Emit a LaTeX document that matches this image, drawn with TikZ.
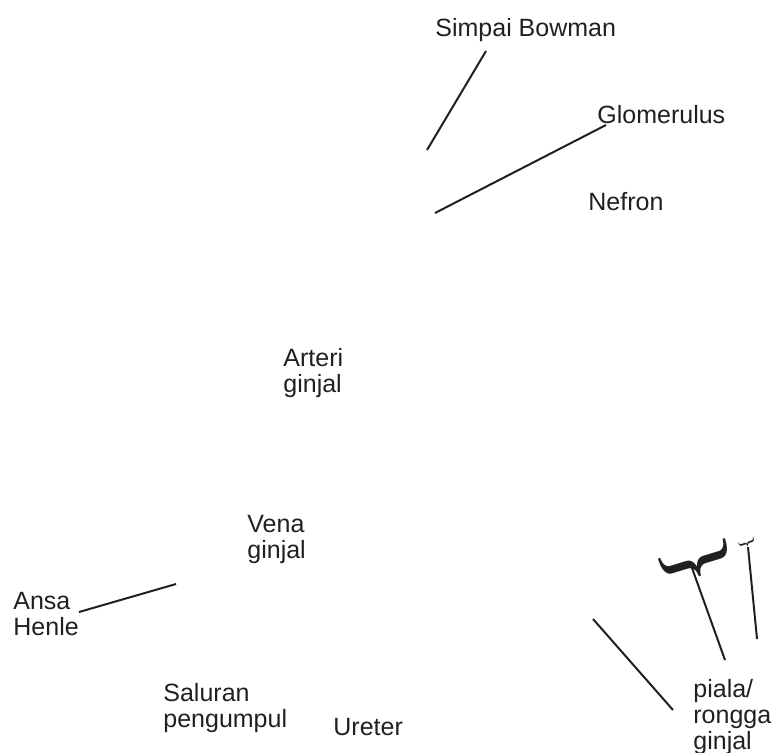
\documentclass[tikz,border=0pt]{standalone}
\usepackage{fontspec}
\setsansfont{Liberation Sans}
\definecolor{labelgray}{HTML}{231F20}

\begin{document}
\begin{tikzpicture}[x=.5pt,y=-.5pt,
  lbl/.style={anchor=north west,inner sep=0,align=left,text=labelgray,font=\sffamily\fontsize{12.5}{13}\selectfont},
  pointer/.style={draw=labelgray,line width=1pt},
  bracemark/.style={inner sep=0,text=labelgray,font=\bfseries\fontsize{#1}{#1}\selectfont}]
\useasboundingbox (0,0) rectangle (774,752);
% labels
\node[lbl] (simpai) at (435,18) {Simpai Bowman};
\node[lbl] (glomerulus) at (597,105) {Glomerulus};
\node[lbl] (nefron) at (588,192) {Nefron};
\node[lbl] (arteri) at (283,348) {Arteri\\ginjal};
\node[lbl] (vena) at (247,515) {Vena\\ginjal};
\node[lbl] (ansa) at (13,592) {Ansa\\Henle};
\node[lbl] (saluran) at (163,683) {Saluran\\pengumpul};
\node[lbl] (ureter) at (333,718) {Ureter};
\node[lbl] (piala) at (693,679) {piala/\\rongga\\ginjal};
% braces
\node[bracemark=35,rotate=-73] (bracebig) at (696,563) {\}};
\node[bracemark=8,rotate=-70] (bracesmall) at (747,543) {\}};
% pointer ends
\coordinate (simpai-a) at (486,51);  \coordinate (simpai-b) at (427,150);
\coordinate (glom-a) at (606,125);   \coordinate (glom-b) at (435,213);
\coordinate (ansa-a) at (79,612);    \coordinate (ansa-b) at (176,584);
\coordinate (pelvis-a) at (692,568); \coordinate (pelvis-b) at (725,660);
\coordinate (calyx-a) at (748,547);  \coordinate (calyx-b) at (757,639);
\coordinate (ureter-a) at (593,619); \coordinate (ureter-b) at (673,710);
% pointers
\draw[pointer] (simpai-a) -- (simpai-b);
\draw[pointer] (glom-a) -- (glom-b);
\draw[pointer] (ansa-a) -- (ansa-b);
\draw[pointer] (pelvis-a) -- (pelvis-b);
\draw[pointer] (calyx-a) -- (calyx-b);
\draw[pointer] (ureter-a) -- (ureter-b);
\end{tikzpicture}
\end{document}
